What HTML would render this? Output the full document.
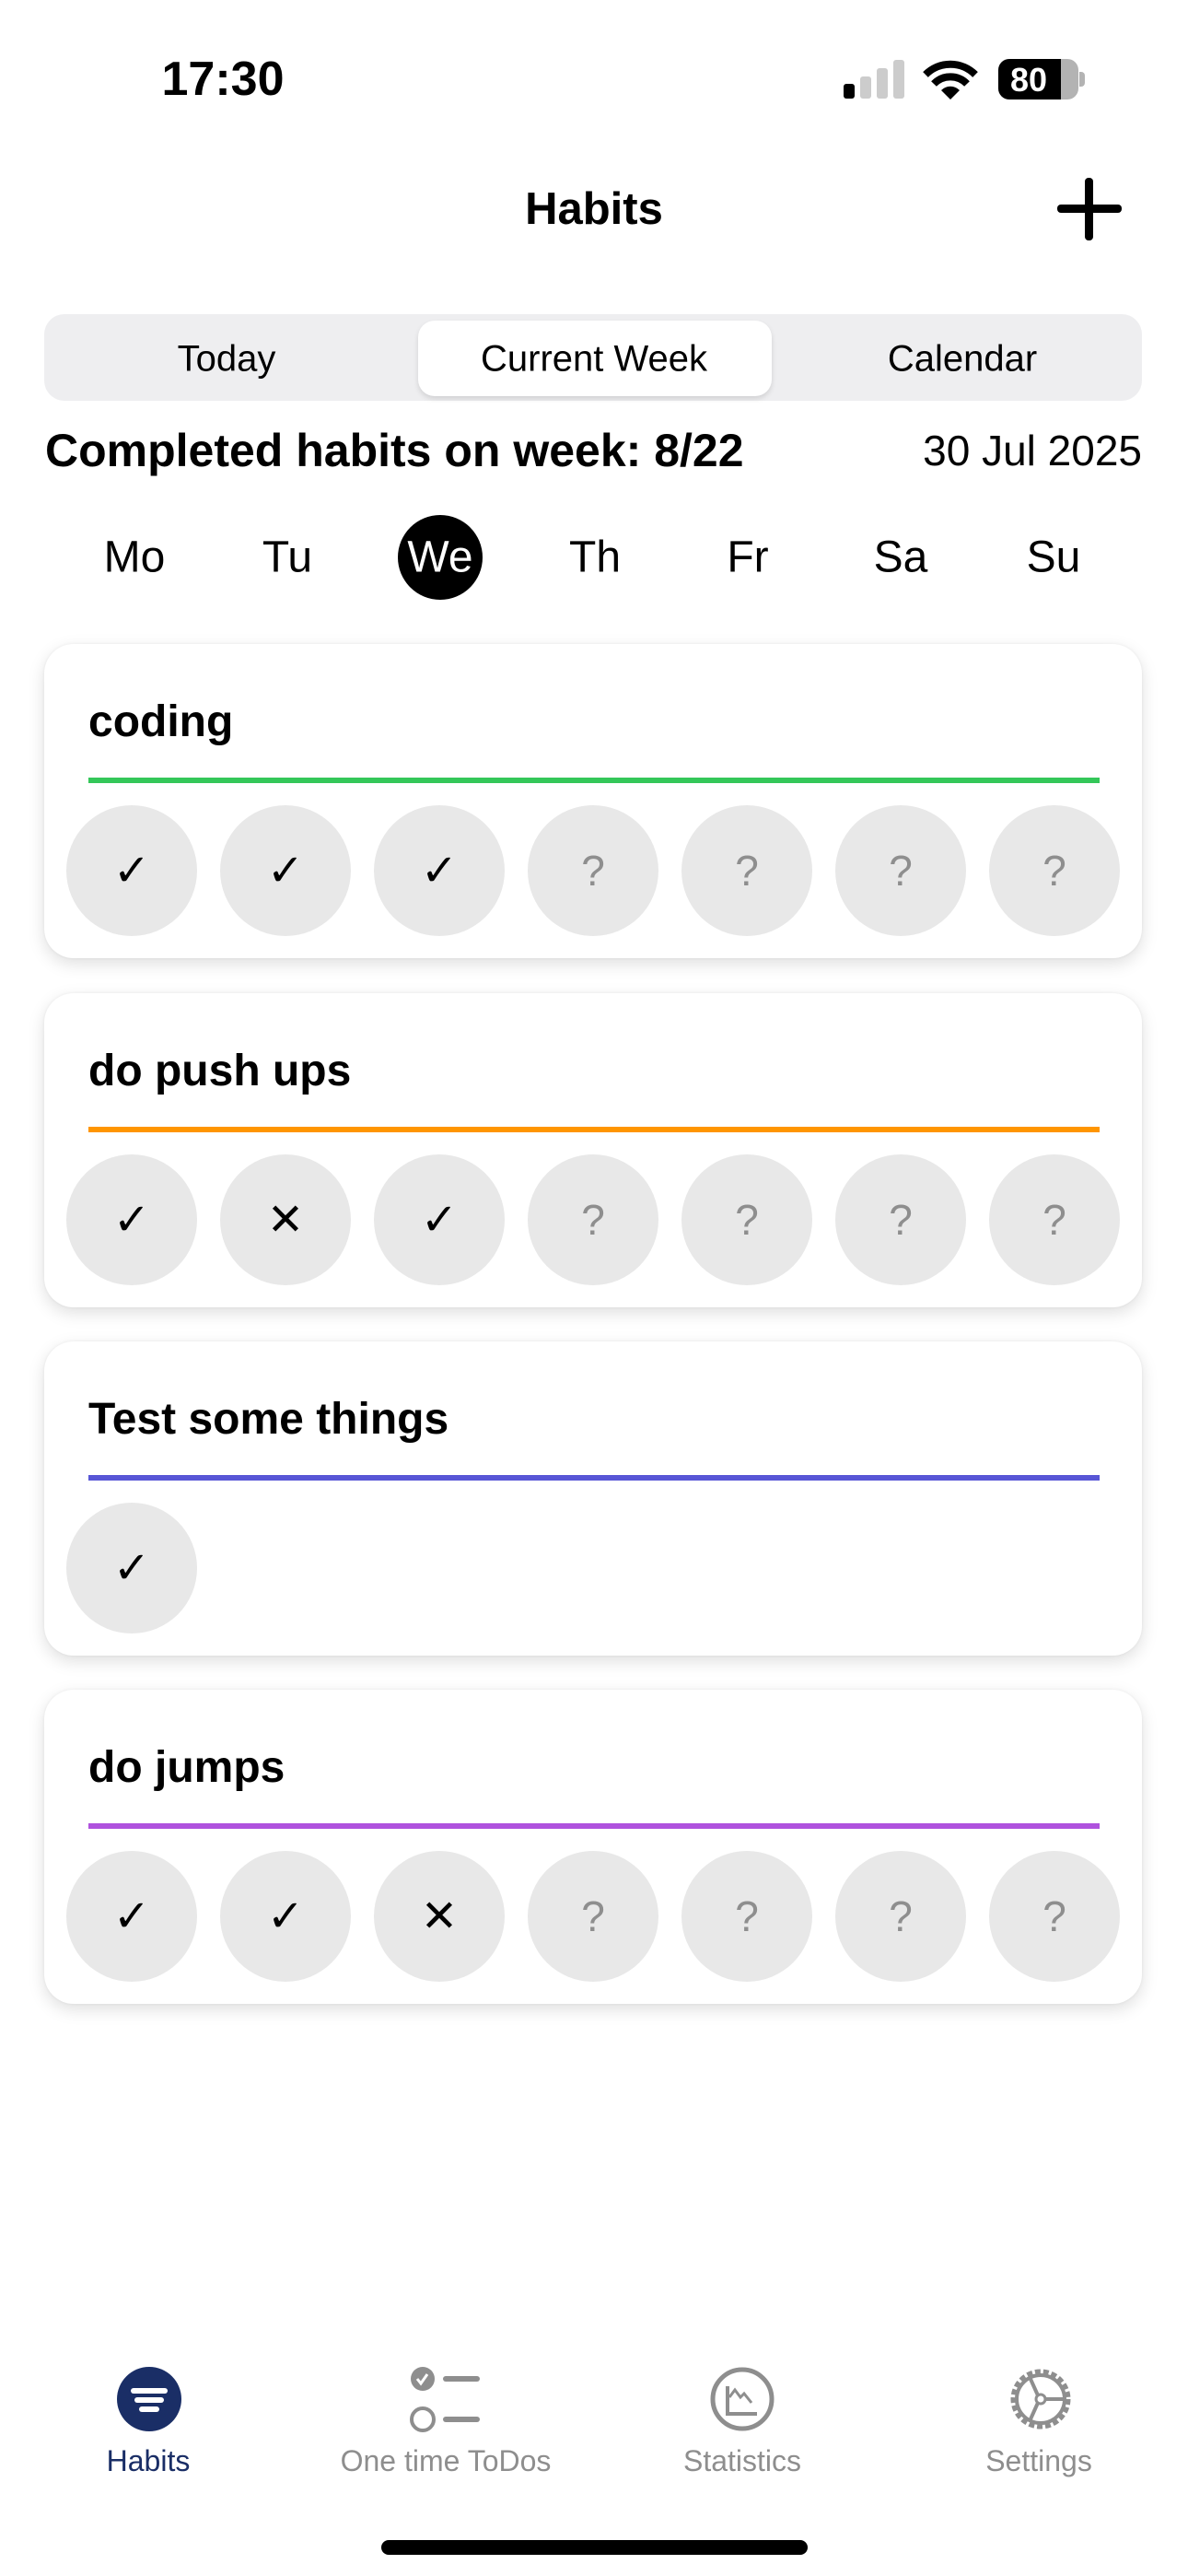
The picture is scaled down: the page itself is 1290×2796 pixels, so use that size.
<!DOCTYPE html>
<html><head><meta charset="utf-8"><style>
*{margin:0;padding:0;box-sizing:border-box}
body{width:1290px;height:2796px;background:#fff;position:relative;overflow:hidden;font-family:"Liberation Sans",sans-serif;color:#000}
.a{position:absolute}
.c{position:absolute;transform:translate(-50%,-50%);white-space:nowrap}
.card{position:absolute;left:48px;width:1192px;height:341px;background:#fff;border-radius:32px;box-shadow:0 6px 18px rgba(0,0,0,0.13),0 0 3px rgba(0,0,0,0.06)}
.card .t{position:absolute;left:48px;top:58px;font-size:48px;line-height:54px;font-weight:bold}
.card .ln{position:absolute;left:48px;width:1098px;top:145px;height:6px}
.b{position:absolute;width:142px;height:142px;border-radius:50%;background:#e8e8e8;top:175px;display:flex;align-items:center;justify-content:center;font-size:48px}
.q{color:#8e8e8e;font-size:46px}
.tab{position:absolute;top:2653px;font-size:32px;color:#8e8e8e;transform:translateX(-50%);white-space:nowrap}
</style></head><body>
<div class="c" style="left:242px;top:86px;font-size:52px;font-weight:bold">17:30</div>
<div class="a" style="left:916px;top:91px;width:12px;height:16px;background:#000;border-radius:3px"></div>
<div class="a" style="left:934px;top:83px;width:12px;height:24px;background:#ccc;border-radius:3px"></div>
<div class="a" style="left:952px;top:74px;width:12px;height:33px;background:#ccc;border-radius:3px"></div>
<div class="a" style="left:970px;top:65px;width:12px;height:42px;background:#ccc;border-radius:3px"></div>
<svg class="a" style="left:1002px;top:64px" width="60" height="46" viewBox="0 0 60 46"><path d="M30 44 L20 34 A14 14 0 0 1 40 34 Z" fill="#000"/><path d="M12 27 A25 25 0 0 1 48 27" stroke="#000" stroke-width="8" fill="none"/><path d="M3 17 A38 38 0 0 1 57 17" stroke="#000" stroke-width="8" fill="none"/></svg>
<div class="a" style="left:1084px;top:64px;width:87px;height:44px;border-radius:12px;background:#b3b3b3;overflow:hidden"><div style="width:68px;height:44px;background:#000"></div></div>
<div class="a" style="left:1172px;top:78px;width:6px;height:16px;border-radius:0 4px 4px 0;background:#b3b3b3"></div>
<div class="c" style="left:1117px;top:87px;font-size:36px;font-weight:bold;color:#fff">80</div>

<div class="c" style="left:645px;top:227px;font-size:49px;font-weight:bold">Habits</div>
<div class="a" style="left:1148px;top:222px;width:70px;height:9px;background:#000;border-radius:4px"></div>
<div class="a" style="left:1178px;top:193px;width:9px;height:68px;background:#000;border-radius:4px"></div>

<div class="a" style="left:48px;top:341px;width:1192px;height:94px;background:#eeeef0;border-radius:22px"></div>
<div class="a" style="left:454px;top:348px;width:384px;height:82px;background:#fff;border-radius:18px;box-shadow:0 3px 6px rgba(0,0,0,0.12)"></div>
<div class="c" style="left:246px;top:390px;font-size:40px">Today</div>
<div class="c" style="left:645px;top:390px;font-size:40px">Current Week</div>
<div class="c" style="left:1045px;top:390px;font-size:40px">Calendar</div>

<div class="a" style="left:49px;top:461px;font-size:50px;font-weight:bold;line-height:56px">Completed habits on week: 8/22</div>
<div class="a" style="right:50px;top:462px;font-size:46px;line-height:54px">30 Jul 2025</div>

<div class="a" style="left:432px;top:559px;width:92px;height:92px;border-radius:50%;background:#000"></div>
<div class="c" style="left:146px;top:605px;font-size:48px">Mo</div>
<div class="c" style="left:312px;top:605px;font-size:48px">Tu</div>
<div class="c" style="left:478px;top:605px;font-size:48px;color:#fff">We</div>
<div class="c" style="left:646px;top:605px;font-size:48px">Th</div>
<div class="c" style="left:812px;top:605px;font-size:48px">Fr</div>
<div class="c" style="left:978px;top:605px;font-size:48px">Sa</div>
<div class="c" style="left:1144px;top:605px;font-size:48px">Su</div>

<div class="card" style="top:699px"><div class="t">coding</div><div class="ln" style="background:#34c759"></div>
<div class="b" style="left:24px">✓</div><div class="b" style="left:191px">✓</div><div class="b" style="left:358px">✓</div><div class="b q" style="left:525px">?</div><div class="b q" style="left:692px">?</div><div class="b q" style="left:859px">?</div><div class="b q" style="left:1026px">?</div></div>

<div class="card" style="top:1078px"><div class="t">do push ups</div><div class="ln" style="background:#ff9500"></div>
<div class="b" style="left:24px">✓</div><div class="b" style="left:191px">✕</div><div class="b" style="left:358px">✓</div><div class="b q" style="left:525px">?</div><div class="b q" style="left:692px">?</div><div class="b q" style="left:859px">?</div><div class="b q" style="left:1026px">?</div></div>

<div class="card" style="top:1456px"><div class="t">Test some things</div><div class="ln" style="background:#5856d6"></div>
<div class="b" style="left:24px">✓</div></div>

<div class="card" style="top:1834px"><div class="t">do jumps</div><div class="ln" style="background:#af52de"></div>
<div class="b" style="left:24px">✓</div><div class="b" style="left:191px">✓</div><div class="b" style="left:358px">✕</div><div class="b q" style="left:525px">?</div><div class="b q" style="left:692px">?</div><div class="b q" style="left:859px">?</div><div class="b q" style="left:1026px">?</div></div>

<svg class="a" style="left:126px;top:2568px" width="72" height="72" viewBox="0 0 72 72"><circle cx="36" cy="36" r="35" fill="#1a2e66"/><rect x="16" y="24" width="40" height="6" rx="3" fill="#fff"/><rect x="20" y="34" width="32" height="6" rx="3" fill="#fff"/><rect x="25" y="44" width="22" height="6" rx="3" fill="#fff"/></svg>
<svg class="a" style="left:444px;top:2568px" width="80" height="74" viewBox="0 0 80 74"><circle cx="15" cy="14" r="13" fill="#8e8e8e"/><path d="M9 14 l4 5 l7 -10" stroke="#fff" stroke-width="3" fill="none"/><rect x="37" y="11" width="40" height="6" rx="3" fill="#8e8e8e"/><circle cx="15" cy="58" r="12" stroke="#8e8e8e" stroke-width="4" fill="none"/><rect x="37" y="55" width="40" height="6" rx="3" fill="#8e8e8e"/></svg>
<svg class="a" style="left:770px;top:2568px" width="72" height="72" viewBox="0 0 72 72"><circle cx="36" cy="36" r="32" stroke="#8e8e8e" stroke-width="5" fill="none"/><path d="M20 22 V52 H52" stroke="#8e8e8e" stroke-width="4" fill="none"/><path d="M22 34 l6 -8 l6 8 l4 -4 l8 10" stroke="#8e8e8e" stroke-width="3" fill="none"/></svg>
<svg class="a" style="left:1092px;top:2566px" width="76" height="76" viewBox="0 0 76 76"><circle cx="38" cy="38" r="30" stroke="#8e8e8e" stroke-width="5" fill="none" stroke-dasharray="6 3"/><circle cx="38" cy="38" r="26" stroke="#8e8e8e" stroke-width="4" fill="none"/><circle cx="38" cy="38" r="5" stroke="#8e8e8e" stroke-width="3" fill="none"/><path d="M43 38 H64 M35 34 L26 14 M35 42 L26 62" stroke="#8e8e8e" stroke-width="4"/></svg>
<div class="tab" style="left:161px;color:#1a2e66">Habits</div>
<div class="tab" style="left:484px">One time ToDos</div>
<div class="tab" style="left:806px">Statistics</div>
<div class="tab" style="left:1128px">Settings</div>

<div class="a" style="left:414px;top:2757px;width:463px;height:16px;border-radius:8px;background:#000"></div>
</body></html>
